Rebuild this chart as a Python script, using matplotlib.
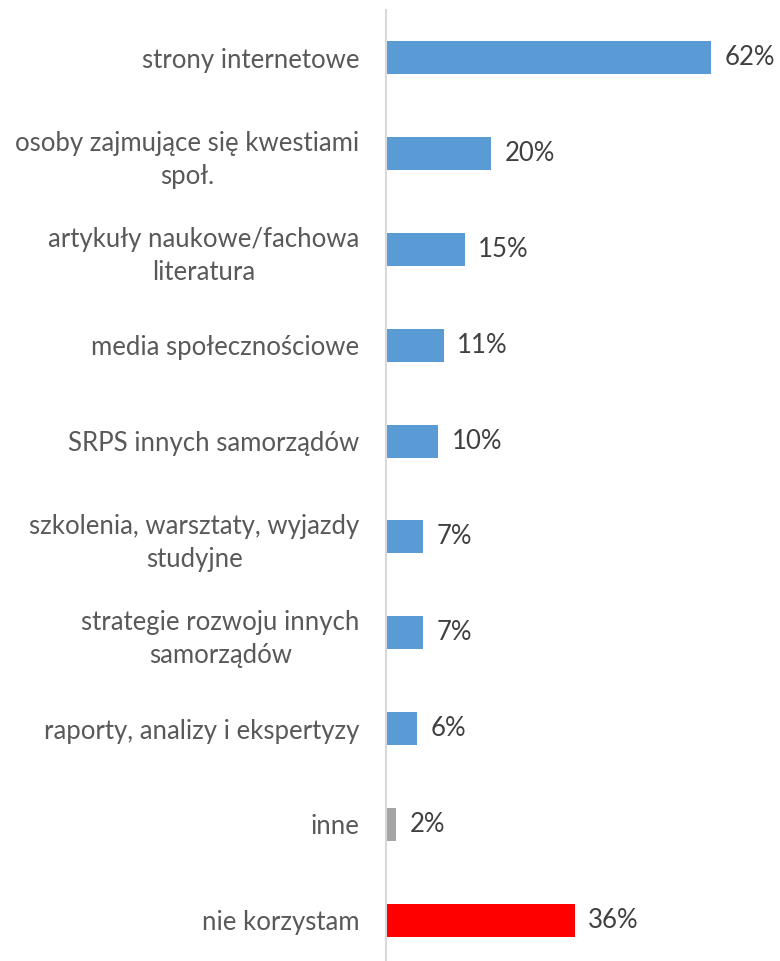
import matplotlib.pyplot as plt

# Survey answers: sources of knowledge used (percent of respondents)
categories = [
    "strony internetowe",
    "osoby zajmujące się kwestiami\nspoł.",
    "artykuły naukowe/fachowa\nliteratura",
    "media społecznościowe",
    "SRPS innych samorządów",
    "szkolenia, warsztaty, wyjazdy\nstudyjne",
    "strategie rozwoju innych\nsamorządów",
    "raporty, analizy i ekspertyzy",
    "inne",
    "nie korzystam",
]
values = [62, 20, 15, 11, 10, 7, 7, 6, 2, 36]
colors = ["#5B9BD5"] * 8 + ["#A5A5A5", "#FF0000"]

plt.rcParams["font.family"] = ["Lato", "DejaVu Sans"]

fig = plt.figure(figsize=(7.8, 9.61), dpi=100)
ax = fig.add_axes([386 / 780, -7 / 961, 394 / 780, 958 / 961])

pos = list(range(len(categories)))
ax.barh(pos, values, height=0.345, color=colors)

for y, v in zip(pos, values):
    ax.text(v + 2.6, y, f"{v}%", va="center", ha="left",
            fontsize=18.5, color="#404040")

ax.set_xlim(0, 75.2)
ax.set_ylim(len(categories) - 0.5, -0.5)
ax.set_yticks(pos)
ax.set_yticklabels(categories, fontsize=18.5, color="#595959",
                   multialignment="center", linespacing=1.4)
ax.tick_params(axis="y", length=0, pad=19)
ax.set_xticks([])

for side in ["top", "right", "bottom"]:
    ax.spines[side].set_visible(False)
ax.spines["left"].set_color("#D9D9D9")
ax.spines["left"].set_linewidth(1.5)

plt.savefig("out.png", dpi=100)
